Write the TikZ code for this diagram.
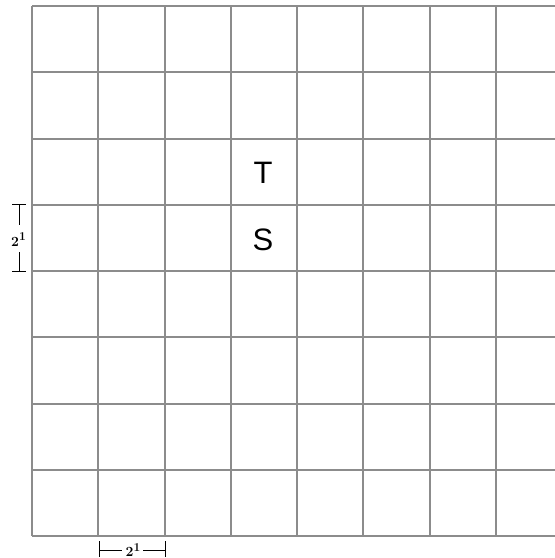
\documentclass[tikz,border=0pt]{standalone}
\usepackage{fontspec}
\newfontfamily\labfont{Liberation Sans}
\newcommand{\twoone}{\fontsize{14}{14}\selectfont\bfseries 2\raisebox{5.5pt}{\fontsize{12}{12}\selectfont 1}}
\begin{document}
\begin{tikzpicture}[x=1pt,y=-1pt,
  gridline/.style={draw={rgb,255:red,140;green,140;blue,140},line width=2pt},
  dimline/.style={draw=black,line width=0.9pt},
  letter/.style={font=\labfont\fontsize{31}{31}\selectfont,inner sep=0pt},
  dimlab/.style={inner sep=0pt,anchor=base}]
\useasboundingbox (0,0) rectangle (555,558);
% grid
\foreach \i in {0,...,8} {
  \draw[gridline] (32,{6+66.25*\i}) -- (556,{6+66.25*\i});
}
\foreach \i in {0,...,7} {
  \draw[gridline] ({32+66.25*\i},6) -- ({32+66.25*\i},536);
}
% letters
\node[letter] (T) at (263,173) {T};
\node[letter] (S) at (263,240) {S};
% left dimension
\node[dimlab] (ll) at (18.5,246) {\twoone};
\coordinate (lt) at (19,204);
\coordinate (lb) at (19,271);
\draw[dimline] (lt) -- (19,225);
\draw[dimline] (19,252) -- (lb);
\draw[dimline] (12,204) -- (26,204);
\draw[dimline] (12,271) -- (26,271);
% bottom dimension
\node[dimlab] (bb) at (133,556.5) {\twoone};
\coordinate (bl) at (99,550);
\coordinate (br) at (165,550);
\draw[dimline] (bl) -- (122,550);
\draw[dimline] (143,550) -- (br);
\draw[dimline] (99,541) -- (99,557);
\draw[dimline] (165,541) -- (165,557);
\end{tikzpicture}
\end{document}
